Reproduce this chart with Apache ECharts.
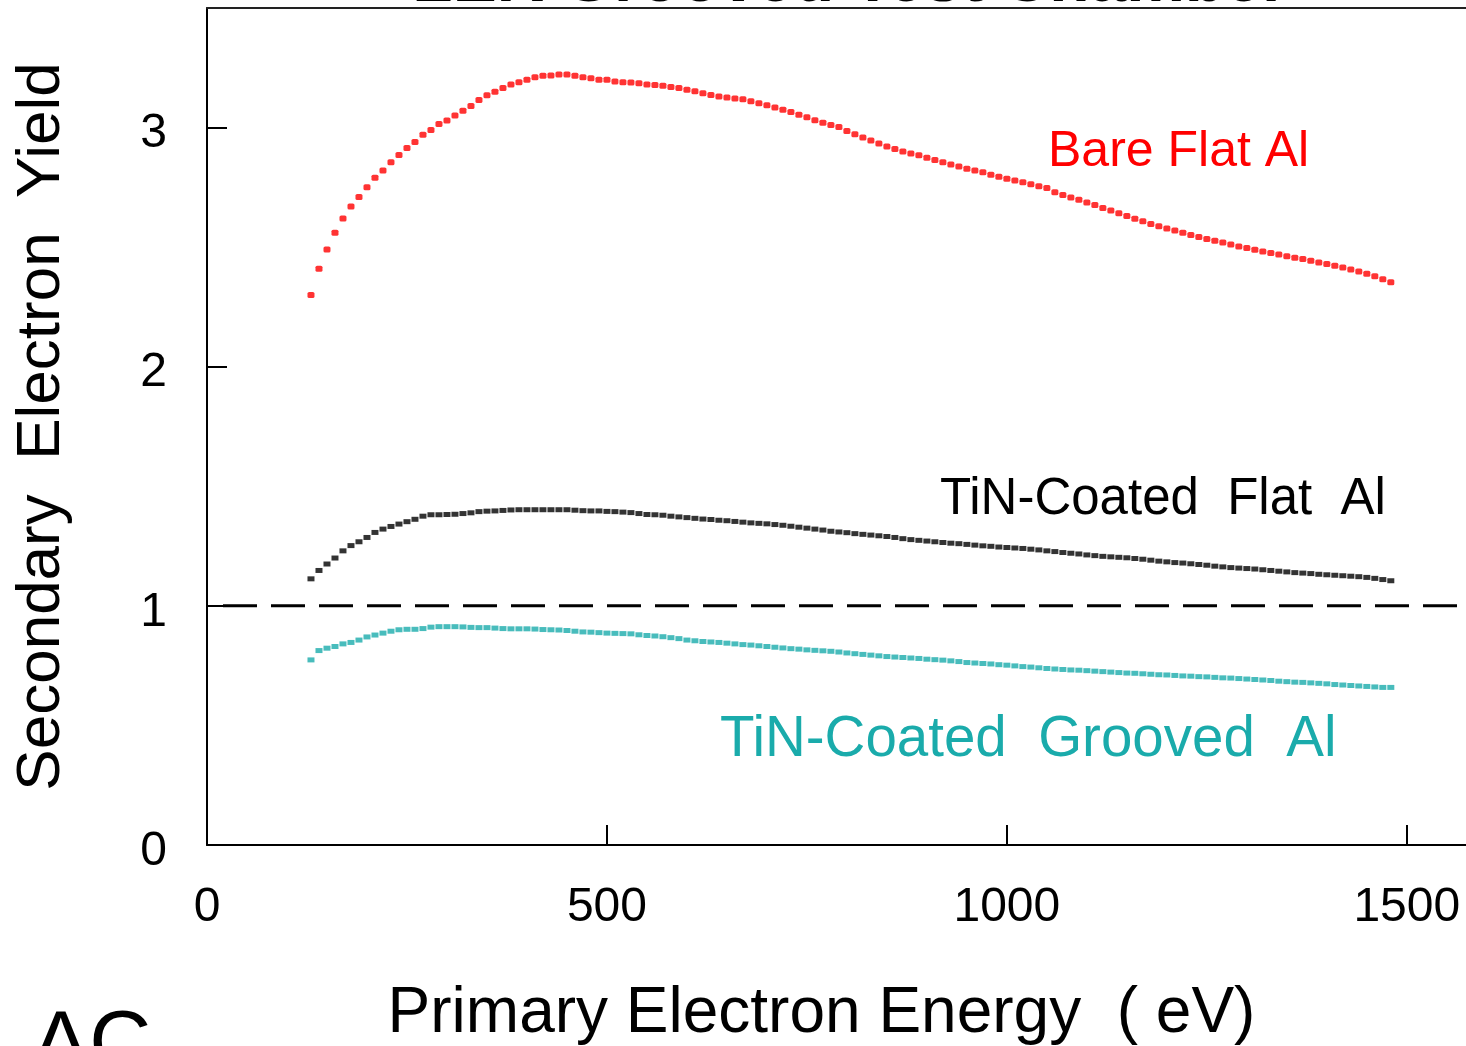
<!DOCTYPE html>
<html>
<head>
<meta charset="utf-8">
<title>SEY</title>
<script src="https://cdn.jsdelivr.net/npm/echarts@6/dist/echarts.min.js"></script>
<style>
html, body { margin: 0; padding: 0; background: #fff; }
#chart-box { width: 1466px; height: 1046px; }
</style>
</head>
<body>
<div id="chart-box"></div>
<script>
// primary electron energy (eV)
var energy = [
    130, 140, 150, 160, 170, 180, 190, 200, 210, 220, 230, 240, 250, 260, 270, 280, 290, 300,
    310, 320, 330, 340, 350, 360, 370, 380, 390, 400, 410, 420, 430, 440, 450, 460, 470, 480,
    490, 500, 510, 520, 530, 540, 550, 560, 570, 580, 590, 600, 610, 620, 630, 640, 650, 660,
    670, 680, 690, 700, 710, 720, 730, 740, 750, 760, 770, 780, 790, 800, 810, 820, 830, 840,
    850, 860, 870, 880, 890, 900, 910, 920, 930, 940, 950, 960, 970, 980, 990, 1000, 1010, 1020,
    1030, 1040, 1050, 1060, 1070, 1080, 1090, 1100, 1110, 1120, 1130, 1140, 1150, 1160, 1170, 1180, 1190, 1200,
    1210, 1220, 1230, 1240, 1250, 1260, 1270, 1280, 1290, 1300, 1310, 1320, 1330, 1340, 1350, 1360, 1370, 1380,
    1390, 1400, 1410, 1420, 1430, 1440, 1450, 1460, 1470, 1480
];
var bareFlat = [
    2.30, 2.41, 2.49, 2.56, 2.62, 2.67, 2.71, 2.75, 2.79, 2.82, 2.855, 2.885, 2.915, 2.94, 2.97, 2.99, 3.015, 3.03,
    3.05, 3.07, 3.09, 3.115, 3.135, 3.15, 3.165, 3.18, 3.19, 3.20, 3.21, 3.217, 3.218, 3.222, 3.222, 3.217, 3.21, 3.206,
    3.20, 3.20, 3.193, 3.19, 3.188, 3.185, 3.18, 3.178, 3.175, 3.17, 3.165, 3.158, 3.152, 3.144, 3.136, 3.13, 3.126, 3.122,
    3.118, 3.11, 3.102, 3.093, 3.084, 3.075, 3.065, 3.054, 3.043, 3.031, 3.02, 3.011, 3.002, 2.986, 2.972, 2.959, 2.946, 2.933,
    2.921, 2.91, 2.90, 2.892, 2.884, 2.874, 2.864, 2.855, 2.846, 2.837, 2.828, 2.82, 2.813, 2.803, 2.794, 2.786, 2.779, 2.771,
    2.763, 2.755, 2.747, 2.73, 2.718, 2.708, 2.698, 2.687, 2.676, 2.664, 2.653, 2.642, 2.63, 2.619, 2.608, 2.597, 2.587, 2.578,
    2.57, 2.56, 2.551, 2.542, 2.534, 2.527, 2.519, 2.511, 2.503, 2.496, 2.489, 2.482, 2.476, 2.469, 2.462, 2.456, 2.45, 2.443,
    2.436, 2.429, 2.422, 2.415, 2.407, 2.398, 2.389, 2.378, 2.366, 2.353
];
var tinFlat = [
    1.113, 1.148, 1.175, 1.200, 1.230, 1.252, 1.268, 1.286, 1.307, 1.321, 1.332, 1.342, 1.352, 1.362, 1.375, 1.381, 1.381, 1.382,
    1.383, 1.386, 1.389, 1.394, 1.396, 1.397, 1.399, 1.401, 1.402, 1.402, 1.402, 1.402, 1.402, 1.402, 1.402, 1.400, 1.398, 1.397,
    1.397, 1.395, 1.394, 1.392, 1.390, 1.386, 1.382, 1.381, 1.379, 1.375, 1.372, 1.369, 1.366, 1.363, 1.361, 1.358, 1.356, 1.353,
    1.350, 1.347, 1.345, 1.343, 1.340, 1.337, 1.333, 1.329, 1.325, 1.321, 1.317, 1.312, 1.309, 1.306, 1.302, 1.299, 1.296, 1.293,
    1.290, 1.286, 1.281, 1.277, 1.274, 1.271, 1.268, 1.265, 1.262, 1.260, 1.257, 1.254, 1.251, 1.249, 1.246, 1.244, 1.242, 1.240,
    1.237, 1.234, 1.230, 1.227, 1.223, 1.220, 1.217, 1.213, 1.210, 1.207, 1.205, 1.203, 1.201, 1.198, 1.195, 1.191, 1.187, 1.184,
    1.181, 1.179, 1.176, 1.173, 1.170, 1.166, 1.163, 1.160, 1.158, 1.156, 1.154, 1.151, 1.148, 1.145, 1.142, 1.139, 1.137, 1.135,
    1.132, 1.130, 1.128, 1.126, 1.124, 1.122, 1.119, 1.115, 1.110, 1.105
];
var tinGrooved = [
    0.774, 0.813, 0.823, 0.830, 0.841, 0.847, 0.857, 0.870, 0.878, 0.886, 0.894, 0.900, 0.902, 0.902, 0.905, 0.911, 0.913, 0.913,
    0.913, 0.912, 0.910, 0.909, 0.909, 0.907, 0.905, 0.904, 0.904, 0.904, 0.903, 0.901, 0.900, 0.899, 0.897, 0.894, 0.891, 0.890,
    0.888, 0.886, 0.885, 0.884, 0.883, 0.879, 0.876, 0.874, 0.871, 0.867, 0.863, 0.857, 0.854, 0.851, 0.849, 0.847, 0.844, 0.841,
    0.838, 0.836, 0.833, 0.830, 0.827, 0.824, 0.821, 0.819, 0.816, 0.814, 0.812, 0.810, 0.807, 0.803, 0.800, 0.797, 0.794, 0.791,
    0.788, 0.786, 0.784, 0.782, 0.780, 0.777, 0.775, 0.773, 0.770, 0.767, 0.763, 0.761, 0.759, 0.757, 0.754, 0.752, 0.749, 0.746,
    0.744, 0.741, 0.738, 0.736, 0.734, 0.732, 0.731, 0.729, 0.727, 0.725, 0.723, 0.721, 0.719, 0.718, 0.716, 0.714, 0.712, 0.711,
    0.709, 0.707, 0.706, 0.704, 0.703, 0.701, 0.699, 0.698, 0.696, 0.694, 0.692, 0.690, 0.688, 0.685, 0.683, 0.681, 0.680, 0.678,
    0.676, 0.674, 0.671, 0.669, 0.667, 0.665, 0.663, 0.661, 0.659, 0.659
];
// yield = 1 reference line
var unityX = [20, 1574];
var unityY = [1, 1];
var xTicks = [0, 500, 1000, 1500];
var yTicks = [0, 1, 2, 3];

var font = '"Liberation Sans", Arial, sans-serif';

function zip(xs, ys) {
    var out = [];
    for (var i = 0; i < xs.length; i++) {
        out.push([xs[i], ys[i]]);
    }
    return out;
}

var option = {
    animation: false,
    backgroundColor: '#fff',
    grid: {
        left: 207,
        right: 0,
        top: 8,
        bottom: 201,
        outerBoundsMode: 'none'
    },
    xAxis: [{
        type: 'value',
        min: 0,
        max: 1574,
        interval: 500,
        name: 'Primary Electron Energy  ( eV)',
        nameLocation: 'middle',
        nameGap: 137,
        nameTextStyle: { color: '#000', fontSize: 64, fontFamily: font, padding: [0, 30, 0, 0] },
        axisLine: { show: true, lineStyle: { color: '#000', width: 2 } },
        axisTick: { show: true, inside: true, length: 20, lineStyle: { color: '#000', width: 2 } },
        splitLine: { show: false },
        axisLabel: {
            color: '#000',
            fontSize: 48,
            fontFamily: font,
            margin: 39,
            showMaxLabel: false,
            formatter: function(v) {
                return xTicks.indexOf(v) >= 0 ? String(v) : '';
            }
        }
    }, {
        type: 'value',
        position: 'top',
        min: 0,
        max: 1574,
        axisLine: { show: true, lineStyle: { color: '#222', width: 2 } },
        axisTick: { show: false },
        axisLabel: { show: false },
        splitLine: { show: false }
    }],
    yAxis: {
        type: 'value',
        min: 0,
        max: 3.5,
        interval: 1,
        name: 'Secondary  Electron  Yield',
        nameLocation: 'middle',
        nameRotate: 90,
        nameGap: 134,
        nameTextStyle: { color: '#000', fontSize: 62, fontFamily: font },
        axisLine: { show: true, lineStyle: { color: '#000', width: 2 } },
        axisTick: { show: true, inside: true, length: 20, lineStyle: { color: '#000', width: 2 } },
        splitLine: { show: false },
        axisLabel: {
            color: '#000',
            fontSize: 48,
            fontFamily: font,
            margin: 40,
            showMaxLabel: false,
            formatter: function(v) {
                return yTicks.indexOf(v) >= 0 ? '{n|' + v + '}' : '';
            },
            rich: {
                n: {
                    color: '#000',
                    fontSize: 48,
                    fontFamily: font,
                    padding: [13, 0, 0, 0]
                }
            }
        }
    },
    graphic: [{
        type: 'text',
        x: 850, y: -17,
        style: {
            text: 'LER Grooved Test Chamber',
            align: 'center', verticalAlign: 'middle',
            font: 'bold 66px ' + font,
            fill: '#000'
        }
    }, {
        type: 'text',
        x: 1048, y: 152,
        style: {
            text: 'Bare Flat Al',
            verticalAlign: 'middle',
            font: '50px ' + font,
            fill: '#ff0000'
        }
    }, {
        type: 'text',
        x: 940, y: 500,
        style: {
            text: 'TiN-Coated  Flat  Al',
            verticalAlign: 'middle',
            font: '51px ' + font,
            fill: '#000'
        }
    }, {
        type: 'text',
        x: 720, y: 740,
        style: {
            text: 'TiN-Coated  Grooved  Al',
            verticalAlign: 'middle',
            font: '56.5px ' + font,
            fill: '#1aabab'
        }
    }, {
        type: 'text',
        x: 32, y: 1046,
        style: {
            text: 'AC',
            verticalAlign: 'middle',
            font: '86px ' + font,
            fill: '#000'
        }
    }],
    series: [{
        name: 'unity',
        type: 'line',
        data: zip(unityX, unityY),
        symbol: 'none',
        lineStyle: { color: '#000', width: 3, type: [34, 14] },
        z: 1
    }, {
        name: 'Bare Flat Al',
        type: 'scatter',
        data: zip(energy, bareFlat),
        symbol: 'roundRect',
        symbolSize: [7, 6],
        itemStyle: { color: '#ff0000' }
    }, {
        name: 'TiN-Coated Flat Al',
        type: 'scatter',
        data: zip(energy, tinFlat),
        symbol: 'rect',
        symbolSize: [7, 5],
        itemStyle: { color: '#000' }
    }, {
        name: 'TiN-Coated Grooved Al',
        type: 'scatter',
        data: zip(energy, tinGrooved),
        symbol: 'rect',
        symbolSize: [7, 5],
        itemStyle: { color: '#1aabab' }
    }]
};

var myChart = echarts.init(document.getElementById('chart-box'));
myChart.setOption(option);
</script>
</body>
</html>
